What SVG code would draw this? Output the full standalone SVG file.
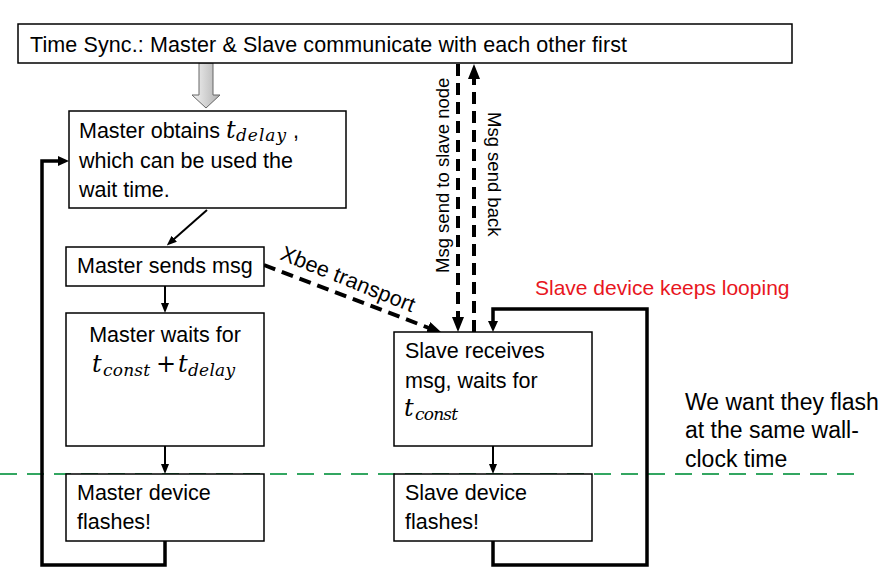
<svg xmlns="http://www.w3.org/2000/svg" width="891" height="572" viewBox="0 0 891 572">
<style>
  .box { fill: #ffffff; stroke: #000000; stroke-width: 1.5; }
  .txt { font-family: "Liberation Sans", Arial, sans-serif; font-size: 21.5px; fill: #000000; }
  .math { font-family: "DejaVu Serif", "Liberation Serif", serif; font-style: italic; fill: #000000; }
  .mt { font-size: 24px; }
  .ms { font-size: 17px; }
  .thin { fill: none; stroke: #000000; stroke-width: 2; }
  .loop { fill: none; stroke: #000000; stroke-width: 3.5; }
  .dash { fill: none; stroke: #000000; stroke-width: 4; stroke-dasharray: 12 7; }
  .vlab { font-family: "Liberation Sans", Arial, sans-serif; font-size: 18.5px; fill: #000000; }
</style>
<defs>
  <marker id="arrowS" markerUnits="userSpaceOnUse" markerWidth="10" markerHeight="8" refX="1" refY="4" orient="auto" viewBox="0 0 10 8">
    <path d="M0,0 L10,4 L0,8 z" fill="#000000"/>
  </marker>
  <marker id="arrowM" markerUnits="userSpaceOnUse" markerWidth="11" markerHeight="10" refX="1" refY="5" orient="auto" viewBox="0 0 11 10">
    <path d="M0,0 L11,5 L0,10 z" fill="#000000"/>
  </marker>
  <marker id="arrowL" markerUnits="userSpaceOnUse" markerWidth="15" markerHeight="12" refX="1" refY="6" orient="auto" viewBox="0 0 15 12">
    <path d="M0,0 L15,6 L0,12 z" fill="#000000"/>
  </marker>
  <linearGradient id="grayGrad" x1="0" y1="0" x2="1" y2="0">
    <stop offset="0" stop-color="#f4f4f4"/>
    <stop offset="1" stop-color="#b0b0b0"/>
  </linearGradient>
</defs>

<!-- green dashed time line -->
<line x1="0" y1="474" x2="856" y2="474" stroke="#33a661" stroke-width="2" stroke-dasharray="17 10"/>

<g id="connectors">
  <polygon id="sync-arrow" points="199,63 213,63 213,95 220,95 206,108 192,95 199,95" fill="url(#grayGrad)" stroke="#666666" stroke-width="1"/>
  <line class="thin" x1="207" y1="210" x2="173.5" y2="239.5" marker-end="url(#arrowS)"/>
  <line class="thin" x1="165" y1="286" x2="165" y2="304" marker-end="url(#arrowS)"/>
  <line class="thin" x1="165" y1="446" x2="165" y2="465" marker-end="url(#arrowS)"/>
  <line class="thin" x1="493" y1="446" x2="493" y2="465" marker-end="url(#arrowS)"/>
  <polyline class="loop" points="165,541 165,565 42,565 42,161 59,161" marker-end="url(#arrowM)"/>
  <polyline class="loop" points="493,541 493,565 647,565 647,309 493,309 493,322" marker-end="url(#arrowM)"/>
  <line class="dash" x1="264" y1="265" x2="429" y2="328" marker-end="url(#arrowL)"/>
  <line class="dash" x1="458" y1="64" x2="458" y2="318" marker-end="url(#arrowL)"/>
  <line class="dash" x1="474" y1="332" x2="474" y2="78" marker-end="url(#arrowL)"/>
  <text class="txt" transform="translate(279,259) rotate(22)" textLength="143">Xbee transport</text>
  <text class="vlab" transform="translate(449,273) rotate(-90)">Msg send to slave node</text>
  <text class="vlab" transform="translate(488,112) rotate(90)">Msg send back</text>
</g>

<g id="time-sync">
  <rect class="box" x="18" y="24" width="774" height="39"/>
  <text class="txt" x="30" y="52" textLength="597">Time Sync.: Master &amp; Slave communicate with each other first</text>
</g>

<g id="master-obtains">
  <rect class="box" x="69" y="111" width="277" height="97"/>
  <text class="txt" x="79" y="138">Master obtains</text>
  <text class="math mt" x="226" y="138">t</text>
  <text class="math ms" x="236" y="141" textLength="50">delay</text>
  <text class="txt" x="293" y="138">,</text>
  <text class="txt" x="79" y="168">which can be used the</text>
  <text class="txt" x="79" y="197">wait time.</text>
</g>

<g id="master-sends">
  <rect class="box" x="66" y="247" width="198" height="39"/>
  <text class="txt" x="77" y="273">Master sends msg</text>
</g>

<g id="master-waits">
  <rect class="box" x="66" y="313" width="198" height="133"/>
  <text class="txt" x="165" y="342" text-anchor="middle">Master waits for</text>
  <text class="math mt" x="92" y="372">t</text>
  <text class="math ms" x="103" y="376" textLength="47">const</text>
  <text class="math mt" x="156" y="372" style="font-style:normal">+</text>
  <text class="math mt" x="178" y="372">t</text>
  <text class="math ms" x="188" y="376" textLength="47">delay</text>
</g>

<g id="master-flashes">
  <rect class="box" x="66" y="474" width="198" height="67"/>
  <text class="txt" x="77" y="500">Master device</text>
  <text class="txt" x="77" y="529">flashes!</text>
</g>

<g id="slave-receives">
  <rect class="box" x="394" y="332" width="198" height="114"/>
  <text class="txt" x="405" y="358">Slave receives</text>
  <text class="txt" x="405" y="388">msg, waits for</text>
  <text class="math mt" x="404" y="416">t</text>
  <text class="math ms" x="415" y="420" textLength="43">const</text>
</g>

<g id="slave-flashes">
  <rect class="box" x="394" y="474" width="198" height="67"/>
  <text class="txt" x="405" y="500">Slave device</text>
  <text class="txt" x="405" y="529">flashes!</text>
</g>

<g id="slave-loop-label">
  <text x="535" y="295" font-family="Liberation Sans, Arial, sans-serif" font-size="21" fill="#e8161e">Slave device keeps looping</text>
</g>

<g id="note">
  <text font-family="Liberation Sans, Arial, sans-serif" font-size="23" fill="#000000">
    <tspan x="685" y="410">We want they flash</tspan>
    <tspan x="685" y="438">at the same wall-</tspan>
    <tspan x="685" y="467">clock time</tspan>
  </text>
</g>
</svg>
